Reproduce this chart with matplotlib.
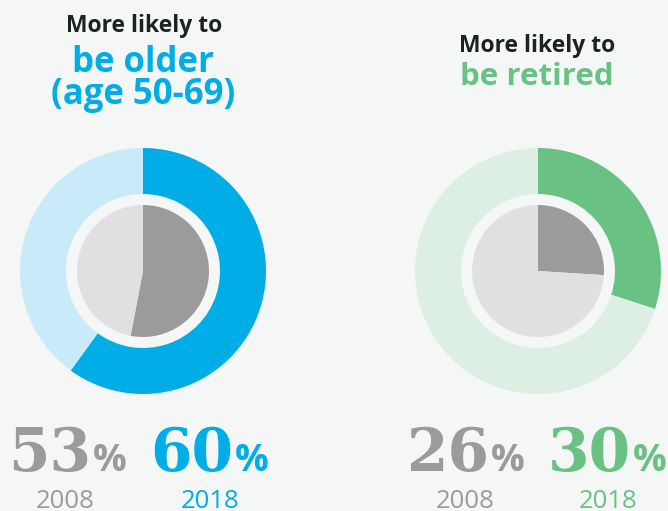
import matplotlib
matplotlib.use('Agg')
import matplotlib.pyplot as plt

# ── Data ─────────────────────────────────────────────────────────────────────
panels = ['older', 'retired']
share_2008 = [53, 26]
share_2018 = [60, 30]
years = ['2008', '2018']

# ── Styling ──────────────────────────────────────────────────────────────────
bg = '#f5f7f7'
accent = ['#00ade6', '#69c184']
accent_light = ['#c9eaf8', '#dcefe2']
gray_dark = '#9a9b9b'
gray_light = '#e0e0e2'
centers = [(143, 240), (538, 240)]   # y measured from bottom (511 - 271)

W, H = 668, 511
fig = plt.figure(figsize=(W / 100, H / 100), dpi=100, facecolor=bg)
ax = fig.add_axes([0, 0, 1, 1])
ax.set_facecolor(bg)

for i in range(len(panels)):
    cx, cy = centers[i]
    # outer ring: 2018 share
    ax.pie([share_2018[i], 100 - share_2018[i]], radius=123, center=(cx, cy),
           colors=[accent[i], accent_light[i]], startangle=90, counterclock=False,
           wedgeprops=dict(width=123 - 77, linewidth=0), frame=True)
    # inner disc: 2008 share
    ax.pie([share_2008[i], 100 - share_2008[i]], radius=66, center=(cx, cy),
           colors=[gray_dark, gray_light], startangle=90, counterclock=False,
           wedgeprops=dict(linewidth=0), frame=True)

ax.set_xlim(0, W)
ax.set_ylim(0, H)
ax.set_aspect('equal')
ax.axis('off')

def y(v):
    return H - v

# headings
ax.text(144, y(32), 'More likely to', ha='center', va='baseline',
        fontsize=16.5, fontweight='bold', family='Open Sans', color='#1e2225')
ax.text(143, y(72), 'be older', ha='center', va='baseline',
        fontsize=25, fontweight='bold', family='Open Sans', color=accent[0])
ax.text(143, y(104), '(age 50-69)', ha='center', va='baseline',
        fontsize=25, fontweight='bold', family='Open Sans', color=accent[0])
ax.text(537, y(52), 'More likely to', ha='center', va='baseline',
        fontsize=16.5, fontweight='bold', family='Open Sans', color='#1e2225')
ax.text(537, y(85), 'be retired', ha='center', va='baseline',
        fontsize=22.5, fontweight='bold', family='Open Sans', color=accent[1])

# percentages and years
num_right = [[91, 233], [489, 631]]
year_x = [[65, 210], [465, 608]]
for i in range(len(panels)):
    vals = [share_2008[i], share_2018[i]]
    cols = [gray_dark, accent[i]]
    for j in range(2):
        xr = num_right[i][j]
        ax.text(xr, y(471), f'{vals[j]}', ha='right', va='baseline',
                fontsize=43, fontweight='bold', family='DejaVu Serif', color=cols[j])
        ax.text(xr + 2, y(471), '%', ha='left', va='baseline',
                fontsize=27, fontweight='bold', family='Open Sans', color=cols[j])
        ax.text(year_x[i][j], y(508), years[j], ha='center', va='baseline',
                fontsize=18.5, family='Open Sans', color=cols[j])

fig.savefig('out.png', dpi=100, facecolor=bg)
